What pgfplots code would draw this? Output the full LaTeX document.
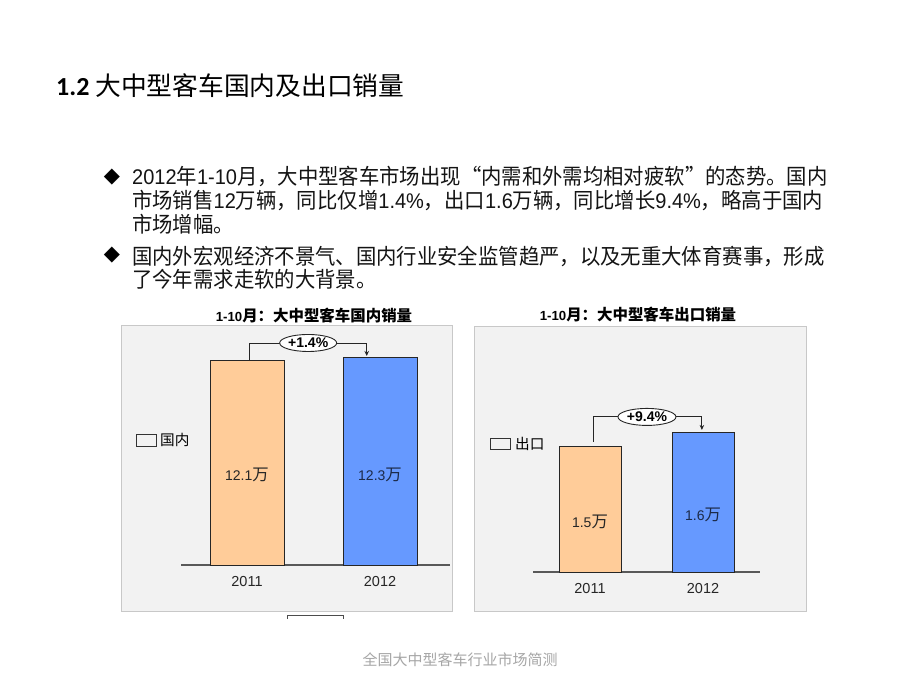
\documentclass[border=0pt]{standalone}
\usepackage{pgfplots}
\pgfplotsset{compat=1.18}
\usepackage{fontspec}
\setmainfont{Liberation Sans}
\newfontfamily\cjk{Noto Sans CJK SC}[Scale=1.17]
\newfontfamily\cjkt{Noto Sans CJK SC}[Scale=1.018]
\newfontfamily\cjkfoot{Noto Sans CJK SC}
\newfontfamily\carlito{Carlito}
\newfontfamily\dejavu{DejaVu Sans}
\usetikzlibrary{shapes.geometric,arrows.meta}
\definecolor{barorange}{HTML}{FFCC99}
\definecolor{barblue}{HTML}{6699FF}
\definecolor{panelbg}{HTML}{F2F2F2}
\definecolor{panelline}{HTML}{C8C8C8}
\definecolor{axisgray}{HTML}{595959}
\definecolor{footgray}{HTML}{A6A6A6}
\definecolor{navytext}{HTML}{1C2A48}
\newcommand{\C}[1]{{\cjk #1}}
\newcommand{\T}[1]{{\cjkt #1}}
\begin{document}
\begin{tikzpicture}[x=1pt,y=1pt]
\path[use as bounding box, fill=white] (0,0) rectangle (920,690);
% slide title
\node[anchor=west, inner sep=0] at (56,604) {\carlito\bfseries\fontsize{26}{26}\selectfont 1.2 {\cjk\mdseries\fontsize{22}{22}\selectfont 大中型客车国内及出口销量}};
% bullets
\node[inner sep=0] at (112,513) {\dejavu\fontsize{21}{21}\selectfont ◆};
\node[inner sep=0] at (112,435) {\dejavu\fontsize{21}{21}\selectfont ◆};
\begin{scope}[every node/.style={anchor=west, inner sep=0, font=\fontsize{20}{20}\selectfont, text=black!92, yscale=1.06, transform shape}]
\node at (132,513) {2012\T{年}1-10\T{月，大中型客车市场出现“内需和外需均相对疲软”的态势。国内}};
\node at (132,489) {\T{市场销售}12\T{万辆，同比仅增}1.4\%\T{，出口}1.6\T{万辆，同比增长}9.4\%\T{，略高于国内}};
\node at (132,466) {\T{市场增幅。}};
\node at (132,434) {\T{国内外宏观经济不景气、国内行业安全监管趋严，以及无重大体育赛事，形成}};
\node at (132,411) {\T{了今年需求走软的大背景。}};
\end{scope}
% panels
\draw[panelline, fill=panelbg, line width=1pt] (121,78) rectangle (452,364);
\draw[panelline, fill=panelbg, line width=1pt] (474,78) rectangle (806,363);
% chart titles
\node[font=\bfseries\fontsize{13.2}{13.2}\selectfont] at (314,374) {1-10\C{月：大中型客车国内销量}};
\node[font=\bfseries\fontsize{13.2}{13.2}\selectfont] at (638,375) {1-10\C{月：大中型客车出口销量}};
% legend-like keys
\draw[black!80, line width=0.8pt, fill=panelbg] (136,244) rectangle (156,256);
\node[anchor=west, inner sep=0] at (160,250) {\cjk\fontsize{12.5}{12.5}\selectfont 国内};
\draw[black!80, line width=0.8pt, fill=panelbg] (490,241) rectangle (510,252);
\node[anchor=west, inner sep=0] at (515,246.5) {\cjk\fontsize{12.5}{12.5}\selectfont 出口};
% small stray line under left panel
\draw[black!70, line width=0.8pt] (287,71)--(287,75)--(343,75)--(343,71);
% footer
\node[text=footgray] at (460,30) {\cjkfoot\fontsize{15}{15}\selectfont 全国大中型客车行业市场简测};

% left chart
\begin{axis}[at={(181pt,125pt)}, anchor=south west, scale only axis,
  width=269pt, height=236pt,
  xmin=-0.496, xmax=1.526, ymin=0, ymax=14,
  axis x line=bottom, axis y line=none,
  x axis line style={-, axisgray, line width=1.2pt},
  xtick={0,1}, xticklabels={\textrm{2011},\textrm{2012}}, major tick length=0pt,
  xticklabel style={font=\fontsize{14.5}{14.5}\selectfont, text=black!85, yshift=-8pt},
  ytick=\empty,
  ybar, bar width=74pt, bar shift=0pt, clip=false]
\addplot[fill=barorange, draw=black!85, line width=0.9pt] coordinates {(0,12.13)};
\addplot[fill=barblue, draw=black!85, line width=0.9pt] coordinates {(1,12.3)};
\draw[black!85, line width=0.9pt] (axis cs:0.02,12.13) |- (axis cs:0.246,13.17);
\draw[black!85, line width=0.9pt, -{Stealth[length=5pt,width=4.5pt]}] (axis cs:0.674,13.17) -| (axis cs:0.9,12.4);
\node[draw=black!85, line width=0.9pt, ellipse, fill=white, minimum width=57pt, minimum height=17pt, inner sep=0pt, font=\bfseries\fontsize{14}{14}\selectfont] at (axis cs:0.46,13.17) {+1.4\%};
\node[font=\fontsize{14}{14}\selectfont, text=black!85] at (axis cs:0,5.34) {12.1\C{万}};
\node[font=\fontsize{14}{14}\selectfont, text=navytext] at (axis cs:1,5.34) {12.3\C{万}};
\end{axis}

% right chart
\begin{axis}[at={(533pt,118pt)}, anchor=south west, scale only axis,
  width=227pt, height=226pt,
  xmin=-0.504, xmax=1.504, ymin=0, ymax=2.6,
  axis x line=bottom, axis y line=none,
  x axis line style={-, axisgray, line width=1.2pt},
  xtick={0,1}, xticklabels={\textrm{2011},\textrm{2012}}, major tick length=0pt,
  xticklabel style={font=\fontsize{14.5}{14.5}\selectfont, text=black!85, yshift=-8pt},
  ytick=\empty,
  ybar, bar width=62pt, bar shift=0pt, clip=false]
\addplot[fill=barorange, draw=black!85, line width=0.9pt] coordinates {(0,1.45)};
\addplot[fill=barblue, draw=black!85, line width=0.9pt] coordinates {(1,1.60)};
\draw[black!85, line width=0.9pt] (axis cs:0.03,1.496) |- (axis cs:0.247,1.784);
\draw[black!85, line width=0.9pt, -{Stealth[length=5pt,width=4.5pt]}] (axis cs:0.761,1.784) -| (axis cs:0.99,1.634);
\node[draw=black!85, line width=0.9pt, ellipse, fill=white, minimum width=58pt, minimum height=17pt, inner sep=0pt, font=\bfseries\fontsize{14}{14}\selectfont] at (axis cs:0.504,1.784) {+9.4\%};
\node[font=\fontsize{14}{14}\selectfont, text=black!85] at (axis cs:0,0.575) {1.5\C{万}};
\node[font=\fontsize{14}{14}\selectfont, text=navytext] at (axis cs:1,0.656) {1.6\C{万}};
\end{axis}
\end{tikzpicture}
\end{document}
